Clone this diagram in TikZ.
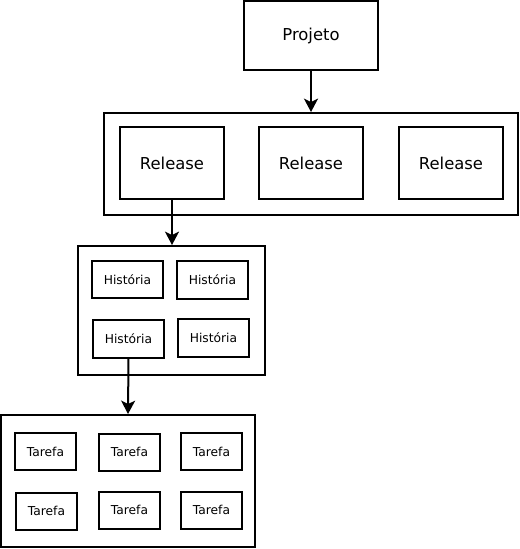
\documentclass[tikz,border=0pt]{standalone}
\usepackage{fontspec}
\setmainfont{DejaVu Sans}
\usetikzlibrary{arrows.meta}

\begin{document}
\begin{tikzpicture}[x=0.75pt, y=-0.75pt]
                \tikzstyle{box} = [draw, line width=1.5pt, inner sep=0pt]
                \tikzstyle{group} = [box, minimum width={#1}]
                \tikzstyle{big} = [box, font=\fontsize{12.3}{14}\selectfont]
                \tikzstyle{small} = [box, font=\fontsize{9.2}{11}\selectfont]
                \tikzstyle{link} = [line width=1.5pt, -{Stealth[length=10pt, width=10.5pt, inset=2.5pt]}]
                \useasboundingbox (0, 0) rectangle (520, 549);
                % projeto
                \node[big, minimum width=100.5pt, minimum height=51.75pt] (projeto) at (311, 35.5) {Projeto};
                % releases
                \node[group=310.5pt, minimum height=76.5pt] (releases) at (311, 164) {};
                \node[big, minimum width=78pt, minimum height=54pt] (release1) at (172, 163) {Release};
                \node[big, minimum width=78pt, minimum height=54pt] (release2) at (311, 163) {Release};
                \node[big, minimum width=78pt, minimum height=54pt] (release3) at (451, 163) {Release};
                % historias
                \node[group=140.25pt, minimum height=96.75pt] (historias) at (171.5, 310.5) {};
                \node[small, minimum width=53.25pt, minimum height=28pt] (historia1) at (127.5, 279.5) {História};
                \node[small, minimum width=53.25pt, minimum height=28pt] (historia2) at (212.5, 280) {História};
                \node[small, minimum width=53.25pt, minimum height=28pt] (historia3) at (128.5, 339) {História};
                \node[small, minimum width=53.25pt, minimum height=28pt] (historia4) at (213.5, 338) {História};
                % tarefas
                \node[group=190.5pt, minimum height=99pt] (tarefas) at (128, 481) {};
                \node[small, minimum width=45.75pt, minimum height=27.75pt] (tarefa1) at (45.5, 451.5) {Tarefa};
                \node[small, minimum width=45.75pt, minimum height=27.75pt] (tarefa2) at (129.5, 452) {Tarefa};
                \node[small, minimum width=45.75pt, minimum height=27.75pt] (tarefa3) at (211.5, 451.5) {Tarefa};
                \node[small, minimum width=45.75pt, minimum height=27.75pt] (tarefa4) at (46.5, 511) {Tarefa};
                \node[small, minimum width=45.75pt, minimum height=27.75pt] (tarefa5) at (129.5, 510) {Tarefa};
                \node[small, minimum width=45.75pt, minimum height=27.75pt] (tarefa6) at (211.5, 510) {Tarefa};
                \draw[link] (projeto.south) -- (releases.north);
                \draw[link] (release1.south) -- (release1.south |- historias.north);
                \draw[link] (historia3.south) -- (tarefas.north);
            \end{tikzpicture}
\end{document}
